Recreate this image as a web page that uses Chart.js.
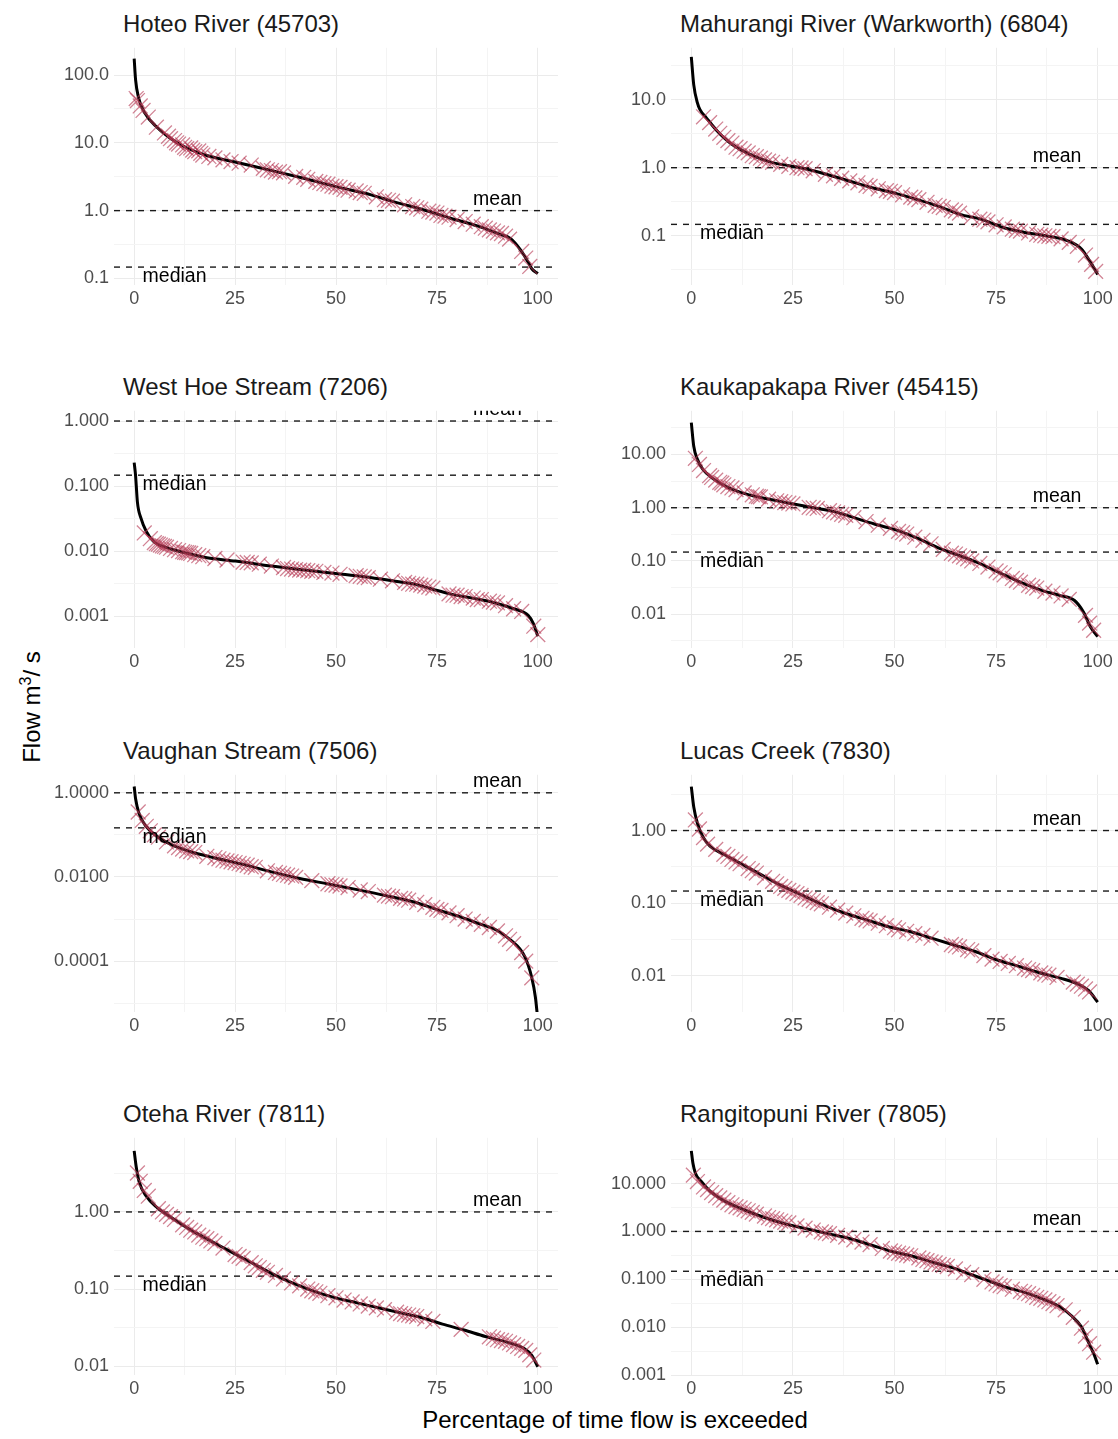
<!DOCTYPE html>
<html>
<head>
<meta charset="utf-8">
<title>Flow duration curves</title>
<script src="https://cdn.jsdelivr.net/npm/chart.js@4.4.1/dist/chart.umd.min.js"></script>
<style>
  body { margin: 0; background: #fff; }
  #page { position: relative; width: 1118px; height: 1439px; overflow: hidden; font-family: "Liberation Sans", Arial, sans-serif; }
  .panel { position: absolute; }
  .facet-title { position: absolute; font-size: 24px; line-height: 24px; color: #1a1a1a; white-space: nowrap; }
  .axis-title { position: absolute; font-size: 24px; line-height: 24px; color: #000; white-space: nowrap; transform: translate(-50%, -50%); }
  #yTitle { transform: translate(-50%, -50%) rotate(-90deg); }
  #yTitle sup { font-size: 16px; line-height: 0; }
</style>
</head>
<body>
<div id="page">
  <div id="yTitle" class="axis-title" style="left:32px; top:707px;">Flow m<sup>3</sup>/ s</div>
  <div class="axis-title" style="left:615px; top:1420px;">Percentage of time flow is exceeded</div>
</div>
<script>
// reference lines, same in every panel
const MEAN_FLOW = 1.0;
const MEDIAN_FLOW = 0.147;

const xTicks = [0, 25, 50, 75, 100];
const xMinorTicks = [12.5, 37.5, 62.5, 87.5];

// Hoteo River (45703)
const hoteoCurve = [[0,175],[0.35,84.5],[1.1,45.8],[2.6,27.7],[5.7,16.8],[9.2,11.4],[12.7,8.6],[18,6.5],[25,5.2],[34,3.9],[42,3.0],[50,2.26],[58.7,1.71],[64,1.37],[72.9,0.98],[78.2,0.78],[85.2,0.59],[90.5,0.45],[93.2,0.39],[95.8,0.26],[97.6,0.174],[98.5,0.139],[100,0.118]];
const hoteoObs = [[0.5,45],[0.8,42],[1.5,35],[2.2,30],[3.5,24],[5.5,17],[7.5,14],[8.5,12.5],[9,11.5],[10,10.8],[10.5,10],[11,9.6],[12,9.3],[12.5,8.6],[13,8.2],[14,8.4],[14.5,7.8],[15,7.4],[16,7.6],[16.5,7.0],[17,6.6],[18.5,6.3],[20,6.0],[22,5.6],[24,5.3],[26,5.0],[29,4.7],[32,4.2],[33,4.0],[34,3.9],[35,3.7],[36,3.75],[37,3.6],[40,3.2],[42,3.1],[43,2.9],[45,2.7],[46,2.6],[47,2.5],[48,2.45],[49,2.3],[50,2.25],[51,2.2],[52,2.05],[53,2.0],[55,1.95],[56,1.85],[57,1.8],[60,1.6],[62,1.45],[63,1.42],[64,1.38],[67,1.22],[69,1.15],[70,1.1],[71,1.05],[73,0.98],[74,0.95],[75,0.92],[76,0.85],[77,0.83],[78,0.8],[80,0.74],[82,0.69],[84,0.63],[86,0.58],[87,0.55],[88,0.52],[89,0.5],[90,0.47],[91,0.46],[92,0.42],[93,0.38],[96,0.25],[97,0.2],[98,0.15]];
const hoteoTicks = [0.1, 1, 10, 100];
const hoteoTickLabels = ['0.1', '1.0', '10.0', '100.0'];
const hoteoMinorTicks = [0.0316, 0.316, 3.16, 31.6];

// Mahurangi River (Warkworth) (6804)
const mahurangiCurve = [[0,42.4],[0.6,16.5],[1.5,8.95],[2.1,7.2],[3.7,5.4],[6.3,3.5],[9.9,2.23],[14.2,1.6],[19.5,1.21],[25.7,1.03],[31,0.87],[38,0.66],[45,0.5],[50.3,0.42],[55.6,0.34],[60.9,0.27],[66.1,0.206],[71.4,0.174],[76.7,0.132],[82,0.112],[87.2,0.1],[92.5,0.085],[96,0.064],[98.2,0.041],[100,0.027]];
const mahurangiObs = [[3,5.6],[4.5,4.6],[6,3.7],[7,3.2],[8,2.8],[9,2.5],[10,2.3],[11,2.0],[12,1.9],[13,1.75],[14,1.65],[15,1.5],[16,1.45],[17,1.38],[18,1.3],[19,1.25],[20,1.2],[22,1.12],[24,1.05],[26,1.0],[27,0.99],[28,0.97],[30,0.9],[33,0.8],[35,0.76],[37,0.7],[39,0.64],[41,0.6],[43,0.55],[44,0.53],[46,0.49],[48,0.46],[49,0.45],[50,0.43],[52,0.4],[54,0.37],[55,0.36],[56,0.34],[58,0.31],[60,0.28],[61,0.27],[62,0.26],[64,0.24],[65,0.23],[66,0.215],[69,0.19],[71,0.175],[72,0.17],[73,0.16],[75,0.145],[77,0.135],[79,0.125],[80,0.12],[81,0.117],[83,0.11],[85,0.105],[86,0.102],[87,0.1],[88,0.098],[89,0.097],[91,0.09],[93,0.08],[95,0.07],[97,0.052],[98.5,0.038],[99.5,0.03]];
const mahurangiTicks = [0.1, 1, 10];
const mahurangiTickLabels = ['0.1', '1.0', '10.0'];
const mahurangiMinorTicks = [0.0316, 0.316, 3.16, 31.6];

// West Hoe Stream (7206)
const westHoeCurve = [[0,0.229],[0.35,0.144],[0.8,0.0568],[1.7,0.0318],[3,0.02],[4.8,0.0141],[8.3,0.0112],[12.7,0.0094],[18,0.0079],[25.1,0.00703],[34,0.0059],[42.8,0.00507],[49.9,0.00452],[57,0.00403],[64,0.0035],[69.3,0.00312],[73.7,0.00262],[78.2,0.0022],[83.5,0.00191],[88.8,0.00164],[94,0.0013],[97.6,0.00103],[98.9,0.00077],[100,0.00049]];
const westHoeObs = [[2.5,0.019],[4,0.0155],[5,0.0135],[5.5,0.013],[6,0.0128],[6.5,0.0124],[7,0.012],[7.5,0.0118],[8,0.0115],[9,0.011],[10,0.0105],[11,0.0102],[12,0.0098],[12.5,0.0096],[13,0.0095],[13.5,0.0094],[14,0.0092],[15,0.0088],[16,0.0085],[17,0.0082],[20,0.0077],[23,0.0073],[27,0.0068],[28,0.0067],[29,0.0066],[31,0.0063],[34,0.0059],[37,0.0056],[38,0.0054],[39,0.0053],[40,0.0052],[41,0.0051],[42,0.0051],[43,0.005],[44,0.0049],[45,0.0049],[47,0.0047],[49,0.0046],[51,0.0044],[55,0.0042],[56,0.0041],[57,0.004],[58,0.0039],[61,0.0037],[64,0.0035],[67,0.0033],[68,0.0032],[69,0.0031],[70,0.0031],[71,0.003],[72,0.0029],[73,0.0028],[74,0.0027],[78,0.0022],[79,0.0021],[80,0.0021],[81,0.002],[82,0.002],[84,0.0019],[85,0.0018],[86,0.0018],[88,0.0017],[89,0.00165],[90,0.0016],[92,0.00145],[94,0.0013],[96,0.00118],[99,0.0007],[100,0.00052]];
const westHoeTicks = [0.001, 0.01, 0.1, 1];
const westHoeTickLabels = ['0.001', '0.010', '0.100', '1.000'];
const westHoeMinorTicks = [0.000316, 0.00316, 0.0316, 0.316];

// Kaukapakapa River (45415)
const kaukaCurve = [[0,39.6],[0.6,14.3],[1.5,8.1],[2.8,5.3],[5.5,3.45],[9,2.42],[13.4,1.82],[18.6,1.47],[24.8,1.19],[30.1,1.0],[35.4,0.835],[40.6,0.63],[45.9,0.473],[50.3,0.383],[55.6,0.268],[60.9,0.175],[65.3,0.132],[70.5,0.0927],[75.8,0.0605],[81.1,0.0395],[86.4,0.0277],[90.8,0.0224],[94.3,0.0181],[96.5,0.011],[98.2,0.00583],[100,0.0038]];
const kaukaObs = [[1,8.5],[2,6.5],[3,5.0],[4.5,4.0],[5,3.7],[6,3.3],[7,3.0],[7.5,2.9],[8,2.7],[9,2.5],[10,2.35],[11,2.2],[13,1.9],[15,1.75],[16,1.65],[16.5,1.62],[17,1.6],[19,1.45],[21,1.35],[22,1.3],[23,1.25],[24,1.22],[25,1.18],[29,1.02],[30,0.99],[31,0.97],[34,0.88],[35,0.84],[36,0.8],[37,0.75],[38,0.72],[40,0.65],[43,0.55],[46,0.47],[49,0.41],[51,0.36],[52,0.34],[53,0.32],[55,0.28],[57,0.245],[59,0.21],[62,0.165],[64,0.14],[65,0.135],[66,0.125],[67,0.118],[68,0.11],[69,0.1],[71,0.09],[73,0.077],[75,0.065],[76,0.06],[77,0.055],[79,0.047],[80,0.043],[81,0.04],[83,0.035],[84,0.033],[85,0.031],[87,0.027],[89,0.025],[91,0.022],[93,0.019],[97,0.0095],[98,0.0068],[99,0.005]];
const kaukaTicks = [0.01, 0.1, 1, 10];
const kaukaTickLabels = ['0.01', '0.10', '1.00', '10.00'];
const kaukaMinorTicks = [0.00316, 0.0316, 0.316, 3.16, 31.6];

// Vaughan Stream (7506)
const vaughanCurve = [[0,1.41],[0.35,0.724],[1.2,0.323],[3,0.157],[5.7,0.0918],[9.2,0.0586],[13.6,0.0409],[19.8,0.0286],[26.9,0.02],[34,0.0132],[41,0.00922],[48.1,0.0068],[55.2,0.005],[62.2,0.00363],[69.3,0.00254],[75.5,0.00162],[80.8,0.00113],[85.2,0.00079],[89.7,0.00055],[93.2,0.000321],[96.7,0.000131],[98.5,0.0000407],[99.4,0.0000139],[100,0.000004]];
const vaughanObs = [[1,0.35],[2,0.22],[3,0.16],[4,0.125],[5,0.1],[6,0.088],[8,0.068],[10,0.055],[11,0.05],[12,0.046],[13,0.042],[14,0.04],[15,0.038],[18,0.031],[20,0.029],[21,0.027],[22,0.025],[23,0.024],[24,0.023],[25,0.022],[26,0.021],[27,0.02],[28,0.019],[29,0.0175],[30,0.017],[33,0.014],[35,0.0128],[36,0.0122],[37,0.0115],[38,0.011],[39,0.0105],[40,0.0098],[44,0.0082],[48,0.0069],[49,0.0066],[50,0.0064],[51,0.0061],[53,0.0056],[56,0.0049],[58,0.0045],[62,0.0037],[63,0.0035],[64,0.0034],[66,0.0031],[67,0.003],[68,0.0028],[70,0.0025],[72,0.0022],[74,0.0019],[75,0.0017],[76,0.0016],[78,0.0014],[80,0.0012],[82,0.001],[84,0.00088],[86,0.00075],[88,0.00063],[90,0.00052],[92,0.0004],[93,0.00033],[94,0.00026],[96,0.00016],[97,0.0001],[98.5,0.00004]];
const vaughanTicks = [0.0001, 0.01, 1];
const vaughanTickLabels = ['0.0001', '0.0100', '1.0000'];
const vaughanMinorTicks = [0.00001, 0.001, 0.1];

// Lucas Creek (7830)
const lucasCurve = [[0,4.03],[0.6,2.11],[1.5,1.26],[2.8,0.83],[4.6,0.607],[8.1,0.468],[12.5,0.343],[16.9,0.251],[22.2,0.174],[27.4,0.128],[32.7,0.0935],[38,0.0721],[43.3,0.0585],[48.5,0.0475],[53.8,0.0407],[59.1,0.033],[64.4,0.0268],[69.7,0.0218],[74.9,0.0168],[80.2,0.0137],[85.5,0.0111],[90.8,0.0093],[95.2,0.0077],[97.8,0.00626],[100,0.00435]];
const lucasObs = [[1,1.4],[2,1.05],[3,0.8],[4,0.65],[6,0.55],[8,0.47],[9,0.44],[10,0.4],[11,0.37],[12,0.35],[14,0.3],[15,0.28],[16,0.26],[18,0.225],[20,0.2],[21,0.185],[22,0.17],[23,0.16],[24,0.15],[25,0.142],[26,0.135],[27,0.128],[28,0.118],[29,0.113],[30,0.108],[31,0.102],[32,0.098],[34,0.088],[36,0.08],[38,0.073],[40,0.067],[42,0.062],[43,0.059],[44,0.057],[46,0.053],[48,0.049],[50,0.046],[51,0.043],[53,0.041],[55,0.038],[57,0.036],[59,0.033],[64,0.027],[65,0.026],[66,0.025],[68,0.023],[69,0.022],[72,0.019],[74,0.017],[76,0.0158],[78,0.0148],[80,0.0138],[82,0.0128],[83,0.0122],[84,0.0118],[86,0.011],[87,0.0106],[88,0.0102],[90,0.0095],[94,0.0082],[95,0.0077],[96,0.0072],[97,0.0066],[98,0.006]];
const lucasTicks = [0.01, 0.1, 1];
const lucasTickLabels = ['0.01', '0.10', '1.00'];
const lucasMinorTicks = [0.00316, 0.0316, 0.316, 3.16];

// Oteha River (7811)
const otehaCurve = [[0,6.19],[0.5,3.87],[1.2,2.49],[3,1.6],[5.7,1.14],[9.2,0.847],[13.6,0.601],[18,0.448],[23.3,0.318],[28.6,0.226],[34,0.16],[39.3,0.119],[44.6,0.0934],[49.9,0.0768],[55.2,0.0662],[60.5,0.0572],[65.8,0.0494],[71.1,0.0427],[76.4,0.0351],[81.7,0.0294],[87,0.0242],[92.3,0.0205],[96.7,0.0168],[98.5,0.0138],[100,0.0098]];
const otehaObs = [[0.8,3.2],[1.5,2.5],[2.5,1.9],[3.5,1.6],[6,1.1],[7,1.0],[8,0.93],[9,0.87],[10,0.8],[12,0.68],[13,0.63],[14,0.58],[15,0.55],[16,0.5],[17,0.47],[18,0.45],[19,0.42],[20,0.39],[22,0.34],[25,0.28],[26,0.265],[27,0.25],[29,0.22],[30,0.2],[31,0.19],[32,0.175],[33,0.165],[35,0.15],[37,0.135],[39,0.12],[41,0.11],[43,0.1],[44,0.095],[45,0.092],[46,0.088],[48,0.082],[50,0.077],[52,0.072],[54,0.068],[56,0.064],[58,0.06],[60,0.057],[62,0.054],[65,0.05],[66,0.048],[67,0.047],[68,0.046],[69,0.045],[70,0.044],[72,0.041],[74,0.038],[81,0.03],[88,0.024],[89,0.023],[90,0.022],[91,0.0215],[92,0.021],[93,0.02],[94,0.019],[95,0.018],[96,0.017],[97,0.016],[98,0.014],[99,0.012]];
const otehaTicks = [0.01, 0.1, 1];
const otehaTickLabels = ['0.01', '0.10', '1.00'];
const otehaMinorTicks = [0.0316, 0.316, 3.16];

// Rangitopuni River (7805)
const rangiCurve = [[0,48.2],[0.4,26.5],[1,16.5],[2.4,11.2],[4.6,6.97],[8.1,4.35],[12.5,2.94],[17.8,1.98],[23,1.45],[28.3,1.14],[33.6,0.9],[38.9,0.713],[44.2,0.521],[49.4,0.38],[54.7,0.3],[60,0.219],[64.4,0.173],[68.8,0.126],[73.2,0.0924],[77.6,0.0675],[82,0.0533],[86.4,0.0389],[90.8,0.0263],[93.4,0.0177],[96,0.0102],[97.8,0.00467],[99.1,0.00269],[100,0.00168]];
const rangiObs = [[0.5,15],[1.5,11],[3,8.5],[4,7.5],[5,6.5],[6,5.6],[7,5.0],[8,4.5],[9,4.0],[10,3.6],[11,3.3],[12,3.1],[13,2.9],[14,2.7],[15,2.5],[16,2.3],[18,2.1],[19,1.95],[20,1.85],[21,1.75],[22,1.65],[23,1.55],[24,1.5],[26,1.3],[28,1.17],[30,1.07],[32,0.98],[33,0.93],[34,0.9],[36,0.83],[38,0.76],[40,0.67],[42,0.6],[44,0.53],[47,0.44],[49,0.39],[50,0.37],[51,0.35],[52,0.34],[53,0.32],[54,0.31],[56,0.28],[57,0.26],[58,0.245],[59,0.23],[60,0.22],[61,0.205],[62,0.195],[63,0.185],[65,0.165],[67,0.14],[69,0.125],[72,0.1],[74,0.088],[75,0.08],[76,0.074],[77,0.07],[79,0.062],[81,0.056],[82,0.053],[83,0.05],[84,0.046],[85,0.042],[86,0.04],[87,0.037],[88,0.034],[89,0.031],[90,0.028],[92,0.023],[94,0.016],[96,0.0095],[97,0.0065],[98,0.0045],[99,0.003]];
const rangiTicks = [0.001, 0.01, 0.1, 1, 10];
const rangiTickLabels = ['0.001', '0.010', '0.100', '1.000', '10.000'];
const rangiMinorTicks = [0.00316, 0.0316, 0.316, 3.16, 31.6];

const panels = [
  { title: 'Hoteo River (45703)', curve: hoteoCurve, obs: hoteoObs, ticks: hoteoTicks, labels: hoteoTickLabels, minor: hoteoMinorTicks, yMin: 0.080, yMax: 252, row: 0, col: 0 },
  { title: 'Mahurangi River (Warkworth) (6804)', curve: mahurangiCurve, obs: mahurangiObs, ticks: mahurangiTicks, labels: mahurangiTickLabels, minor: mahurangiMinorTicks, yMin: 0.0189, yMax: 57.8, row: 0, col: 1 },
  { title: 'West Hoe Stream (7206)', curve: westHoeCurve, obs: westHoeObs, ticks: westHoeTicks, labels: westHoeTickLabels, minor: westHoeMinorTicks, yMin: 0.000324, yMax: 1.436, row: 1, col: 0 },
  { title: 'Kaukapakapa River (45415)', curve: kaukaCurve, obs: kaukaObs, ticks: kaukaTicks, labels: kaukaTickLabels, minor: kaukaMinorTicks, yMin: 0.00232, yMax: 66.2, row: 1, col: 1 },
  { title: 'Vaughan Stream (7506)', curve: vaughanCurve, obs: vaughanObs, ticks: vaughanTicks, labels: vaughanTickLabels, minor: vaughanMinorTicks, yMin: 0.00000618, yMax: 2.68, row: 2, col: 0 },
  { title: 'Lucas Creek (7830)', curve: lucasCurve, obs: lucasObs, ticks: lucasTicks, labels: lucasTickLabels, minor: lucasMinorTicks, yMin: 0.00318, yMax: 5.85, row: 2, col: 1 },
  { title: 'Oteha River (7811)', curve: otehaCurve, obs: otehaObs, ticks: otehaTicks, labels: otehaTickLabels, minor: otehaMinorTicks, yMin: 0.00767, yMax: 9.16, row: 3, col: 0 },
  { title: 'Rangitopuni River (7805)', curve: rangiCurve, obs: rangiObs, ticks: rangiTicks, labels: rangiTickLabels, minor: rangiMinorTicks, yMin: 0.001, yMax: 90.4, row: 3, col: 1 }
];

// panel geometry (px)
const ROW_TOPS = [44, 407, 771, 1134];
const PANEL_H = 241;
const PAD_TOP = 12;
const X_AXIS_H = 36;
const Y_AXIS_W = 114;
const COLS = [
  { left: 0, width: 558, titleX: 123 },
  { left: 557, width: 561, titleX: 680 }
];
const GRID_MAJOR = '#ebebeb';
const GRID_MINOR = '#f4f4f4';
const FONT = '"Liberation Sans", Arial, sans-serif';

// "mean" / "median" text next to the dashed lines
const refLabels = {
  id: 'refLabels',
  afterDatasetsDraw(chart) {
    const { ctx, chartArea: a, scales } = chart;
    ctx.save();
    ctx.beginPath();
    ctx.rect(a.left, a.top, a.right - a.left, a.bottom - a.top);
    ctx.clip();
    ctx.font = '19.5px ' + FONT;
    ctx.fillStyle = '#000';
    ctx.textAlign = 'center';
    ctx.textBaseline = 'alphabetic';
    ctx.fillText('mean', scales.x.getPixelForValue(90), scales.y.getPixelForValue(MEAN_FLOW) - 6);
    ctx.fillText('median', scales.x.getPixelForValue(10), scales.y.getPixelForValue(MEDIAN_FLOW) + 15);
    ctx.restore();
  }
};

const page = document.getElementById('page');

panels.forEach(p => {
  const col = COLS[p.col];
  const top = ROW_TOPS[p.row];

  const title = document.createElement('div');
  title.className = 'facet-title';
  title.style.left = col.titleX + 'px';
  title.style.top = (top - 32) + 'px';
  title.textContent = p.title;
  page.appendChild(title);

  const canvas = document.createElement('canvas');
  canvas.className = 'panel';
  canvas.width = col.width;
  canvas.height = PAD_TOP + PANEL_H + X_AXIS_H;
  canvas.style.left = col.left + 'px';
  canvas.style.top = (top - PAD_TOP) + 'px';
  page.appendChild(canvas);

  const yTickList = p.ticks.map((v, i) => ({ value: v, label: p.labels[i], major: true }))
    .concat(p.minor.map(v => ({ value: v, label: '', major: false })))
    .filter(t => t.value >= p.yMin * 0.999 && t.value <= p.yMax)
    .sort((a, b) => a.value - b.value);
  const xTickList = xTicks.map(v => ({ value: v, label: String(v), major: true }))
    .concat(xMinorTicks.map(v => ({ value: v, label: '', major: false })))
    .sort((a, b) => a.value - b.value);

  new Chart(canvas, {
    type: 'line',
    data: {
      datasets: [
        {
          data: p.obs.map(([x, y]) => ({ x, y })),
          showLine: false,
          pointStyle: 'crossRot',
          pointRadius: 10.5,
          pointBorderColor: 'rgba(182, 56, 84, 0.62)',
          pointBackgroundColor: 'rgba(0,0,0,0)',
          pointBorderWidth: 1.3,
          order: 0
        },
        {
          data: p.curve.map(([x, y]) => ({ x, y })),
          borderColor: '#000',
          borderWidth: 3,
          pointRadius: 0,
          cubicInterpolationMode: 'monotone',
          clip: 0,
          order: 1
        },
        {
          data: [{ x: -5, y: MEAN_FLOW }, { x: 105, y: MEAN_FLOW }],
          borderColor: '#1a1a1a',
          borderWidth: 1.4,
          borderDash: [6, 6],
          pointRadius: 0,
          order: 2
        },
        {
          data: [{ x: -5, y: MEDIAN_FLOW }, { x: 105, y: MEDIAN_FLOW }],
          borderColor: '#1a1a1a',
          borderWidth: 1.4,
          borderDash: [6, 6],
          pointRadius: 0,
          order: 2
        }
      ]
    },
    options: {
      responsive: false,
      animation: false,
      layout: { autoPadding: false, padding: { top: PAD_TOP, left: 0, right: 0, bottom: 0 } },
      plugins: { legend: { display: false }, tooltip: { enabled: false } },
      scales: {
        x: {
          type: 'linear',
          min: -5,
          max: 105,
          bounds: 'data',
          afterBuildTicks: ax => { ax.ticks = xTickList.map(t => ({ value: t.value })); },
          afterFit: ax => { ax.height = X_AXIS_H; },
          grid: {
            color: c => (xTickList[c.index] && xTickList[c.index].major) ? GRID_MAJOR : GRID_MINOR,
            lineWidth: 1,
            drawTicks: false
          },
          border: { display: false },
          ticks: {
            autoSkip: false,
            maxRotation: 0,
            padding: 3,
            color: '#4d4d4d',
            font: { family: FONT, size: 18 },
            callback: (v, i) => xTickList[i] ? xTickList[i].label : ''
          }
        },
        y: {
          type: 'logarithmic',
          min: p.yMin,
          max: p.yMax,
          bounds: 'data',
          afterBuildTicks: ax => { ax.ticks = yTickList.map(t => ({ value: t.value })); },
          afterFit: ax => { ax.width = Y_AXIS_W; },
          grid: {
            color: c => (yTickList[c.index] && yTickList[c.index].major) ? GRID_MAJOR : GRID_MINOR,
            lineWidth: 1,
            drawTicks: false
          },
          border: { display: false },
          ticks: {
            autoSkip: false,
            padding: 5,
            color: '#4d4d4d',
            font: { family: FONT, size: 18 },
            callback: (v, i) => yTickList[i] ? yTickList[i].label : ''
          }
        }
      }
    },
    plugins: [refLabels]
  });
});
</script>
</body>
</html>
